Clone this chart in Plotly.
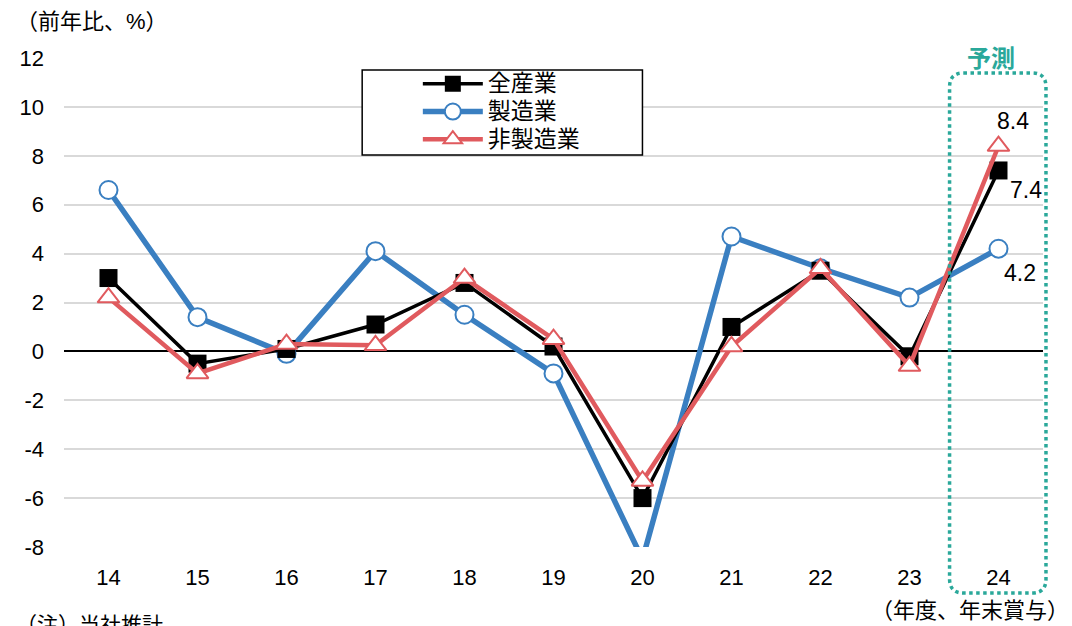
import plotly.graph_objects as go

years = ["14", "15", "16", "17", "18", "19", "20", "21", "22", "23", "24"]
all_ind = [3.0, -0.5, 0.1, 1.1, 2.8, 0.2, -6.0, 1.0, 3.3, -0.2, 7.4]
mfg = [6.6, 1.4, -0.1, 4.1, 1.5, -0.9, -8.5, 4.7, 3.4, 2.2, 4.2]
nonmfg = [2.2, -0.9, 0.3, 0.25, 3.0, 0.5, -5.3, 0.2, 3.4, -0.6, 8.4]
y_ticks = [12, 10, 8, 6, 4, 2, 0, -2, -4, -6, -8]

JP = "Liberation Sans, Arial, Noto Sans CJK JP"
BLUE = "#3a7fc1"
RED = "#e05a5e"
TEAL = "#2aa89a"

# page offset of the figure (default body margin) and figure size
OFF = 8
W, H = 1072 - OFF, 626 - OFF
L, T = 58 - OFF, 58 - OFF
pw, ph = 985, 489
R, B = W - L - pw, H - T - ph


def px(x):
    return (x - OFF - L) / pw


def py(y):
    return (H - B - (y - OFF)) / ph


def leg(name):
    return f'<span style="font-size:23px">{name}</span>'


fig = go.Figure()
fig.add_trace(go.Scatter(x=years, y=mfg, name=leg("製造業"), mode="lines+markers",
                         line=dict(color=BLUE, width=5.5),
                         marker=dict(symbol="circle", size=18, color="white", line=dict(color=BLUE, width=2)),
                         legendrank=2))
fig.add_trace(go.Scatter(x=years, y=all_ind, name=leg("全産業"), mode="lines+markers",
                         line=dict(color="black", width=3.5),
                         marker=dict(symbol="square", size=18, color="black"),
                         legendrank=1))
fig.add_trace(go.Scatter(x=years, y=nonmfg, name=leg("非製造業"), mode="lines+markers",
                         line=dict(color=RED, width=4.5),
                         marker=dict(symbol="triangle-up", size=19, color="white", line=dict(color=RED, width=2)),
                         legendrank=3))

# data labels for the forecast year (category index of the last year)
last = len(years) - 1
fig.add_annotation(x=last, y=nonmfg[-1], text=f"{nonmfg[-1]:.1f}", showarrow=False,
                   xanchor="center", yanchor="middle",
                   xshift=14, yshift=25, font=dict(size=23, color="black", family=JP))
fig.add_annotation(x=last, y=all_ind[-1], text=f"{all_ind[-1]:.1f}", showarrow=False,
                   xanchor="center", yanchor="middle",
                   xshift=27, yshift=-20, font=dict(size=23, color="black", family=JP))
fig.add_annotation(x=last, y=mfg[-1], text=f"{mfg[-1]:.1f}", showarrow=False,
                   xanchor="center", yanchor="middle",
                   xshift=21, yshift=-24, font=dict(size=23, color="black", family=JP))

# legend frame
fig.add_shape(type="rect", xref="paper", yref="paper", x0=px(358), x1=px(640), y0=py(155), y1=py(70),
              line=dict(color="black", width=1.5), fillcolor="white", layer="above")

# forecast dotted rounded box
x0, x1, y0, y1, r = 949, 1046, 73, 593, 14
path = (f"M {px(x0 + r)} {py(y0)} L {px(x1 - r)} {py(y0)} "
        f"Q {px(x1)} {py(y0)} {px(x1)} {py(y0 + r)} "
        f"L {px(x1)} {py(y1 - r)} Q {px(x1)} {py(y1)} {px(x1 - r)} {py(y1)} "
        f"L {px(x0 + r)} {py(y1)} Q {px(x0)} {py(y1)} {px(x0)} {py(y1 - r)} "
        f"L {px(x0)} {py(y0 + r)} Q {px(x0)} {py(y0)} {px(x0 + r)} {py(y0)} Z")
fig.add_shape(type="path", path=path, xref="paper", yref="paper",
              line=dict(color=TEAL, width=3.5, dash="dot"))

fig.add_annotation(x=px(991), y=py(58), xref="paper", yref="paper", text="<b>予測</b>",
                   xanchor="center", yanchor="middle",
                   showarrow=False, font=dict(size=24, color=TEAL, family=JP))
fig.add_annotation(x=px(OFF), y=py(22), xref="paper", yref="paper", text="（前年比、%）",
                   xanchor="left", yanchor="middle",
                   showarrow=False, font=dict(size=22, color="black", family=JP))
fig.add_annotation(x=px(1071), y=py(610), xref="paper", yref="paper", text="（年度、年末賞与）",
                   xanchor="right", yanchor="middle",
                   showarrow=False, font=dict(size=22, color="black", family=JP))
fig.add_annotation(x=px(OFF), y=py(624), xref="paper", yref="paper", text="（注）当社推計",
                   xanchor="left", yanchor="middle",
                   showarrow=False, font=dict(size=21, color="black", family=JP))

fig.update_layout(
    width=W, height=H,
    margin=dict(l=L, r=R, t=T, b=B),
    paper_bgcolor="white", plot_bgcolor="white",
    font=dict(family=JP, size=22, color="black"),
    showlegend=True,
    legend=dict(x=px(414), y=py(65), xanchor="left", yanchor="top",
                bgcolor="rgba(0,0,0,0)", borderwidth=0,
                font=dict(size=19, family=JP), itemwidth=60, tracegroupgap=0),
    xaxis=dict(type="category", range=[-0.5, 10.5], showgrid=False, zeroline=False,
               showline=False, ticks="", ticklabelstandoff=15,
               tickfont=dict(size=22, family=JP)),
    yaxis=dict(range=[-8, 12], tickvals=y_ticks, ticktext=[str(v) for v in y_ticks],
               showgrid=True, gridcolor="#d9d9d9", gridwidth=1.5,
               zeroline=True, zerolinecolor="black", zerolinewidth=1.5,
               showline=False, ticks="", ticklabelstandoff=19,
               tickfont=dict(size=22, family=JP)),
)

fig.write_html("out.html")
